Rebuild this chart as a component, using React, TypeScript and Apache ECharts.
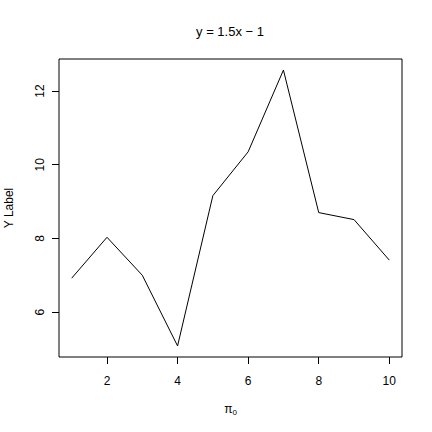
import React, { useEffect, useRef } from "react";
import * as echarts from "echarts";

const xValues = [1, 2, 3, 4, 5, 6, 7, 8, 9, 10];
const yValues = [6.92, 8.03, 7.0, 5.08, 9.16, 10.35, 12.57, 8.7, 8.51, 7.41];
const xTicks = [2, 4, 6, 8, 10];
const yTicks = [6, 8, 10, 12];

const FONT = "'Liberation Sans', Arial, Helvetica, sans-serif";

const App = () => {
  const chartRef = useRef<HTMLDivElement>(null);

  useEffect(() => {
    document.body.style.margin = "0";
    let myChart: echarts.ECharts | null = null;
    if (chartRef.current !== null) {
      myChart = echarts.init(chartRef.current, null, { renderer: "svg" });
    }

    const option = {
      animation: false,
      backgroundColor: "#ffffff",
      textStyle: { fontFamily: FONT },
      graphic: [
        {
          type: "text",
          x: 230,
          y: 31,
          style: {
            text: "y = 1.5x − 1",
            font: "13px " + FONT,
            fill: "#000",
            textAlign: "center",
            textVerticalAlign: "middle",
          },
        },
      ],
      grid: {
        left: 59,
        right: 30,
        top: 59,
        bottom: 75,
        containLabel: false,
        outerBoundsMode: "none",
        show: true,
        borderColor: "#000",
        borderWidth: 1,
        backgroundColor: "transparent",
      },
      xAxis: {
        type: "value",
        min: 0.64,
        max: 10.36,
        splitLine: { show: false },
        axisLine: { show: false },
        axisTick: {
          show: true,
          inside: false,
          length: 7,
          customValues: xTicks,
          lineStyle: { color: "#000" },
        },
        axisLabel: {
          customValues: xTicks,
          margin: 18,
          fontSize: 12,
          color: "#000",
          fontFamily: FONT,
        },
        name: "{a|π}{b|0}",
        nameLocation: "middle",
        nameGap: 45,
        nameTextStyle: {
          color: "#000",
          fontFamily: FONT,
          rich: {
            a: { fontSize: 12, fontFamily: FONT, color: "#000" },
            b: { fontSize: 8, fontFamily: FONT, color: "#000", padding: [6, 0, 0, 0] },
          },
        },
      },
      yAxis: {
        type: "value",
        min: 4.78,
        max: 12.87,
        splitLine: { show: false },
        axisLine: { show: false },
        axisTick: {
          show: true,
          inside: false,
          length: 7,
          customValues: yTicks,
          lineStyle: { color: "#000" },
        },
        axisLabel: {
          customValues: yTicks,
          rotate: 90,
          margin: 13,
          fontSize: 12,
          color: "#000",
          fontFamily: FONT,
        },
        name: "Y Label",
        nameLocation: "middle",
        nameGap: 44,
        nameTextStyle: { color: "#000", fontSize: 12, fontFamily: FONT },
      },
      series: [
        {
          type: "line",
          data: xValues.map((x, i) => [x, yValues[i]]),
          showSymbol: false,
          symbol: "none",
          lineStyle: { color: "#000", width: 1 },
          emphasis: { disabled: true },
        },
      ],
    };

    if (myChart !== null) {
      myChart.setOption(option);
    }

    return () => {
      if (myChart !== null) {
        myChart.dispose();
      }
    };
  }, []);

  return <div ref={chartRef} style={{ width: 432, height: 432 }}></div>;
};

export default App;
